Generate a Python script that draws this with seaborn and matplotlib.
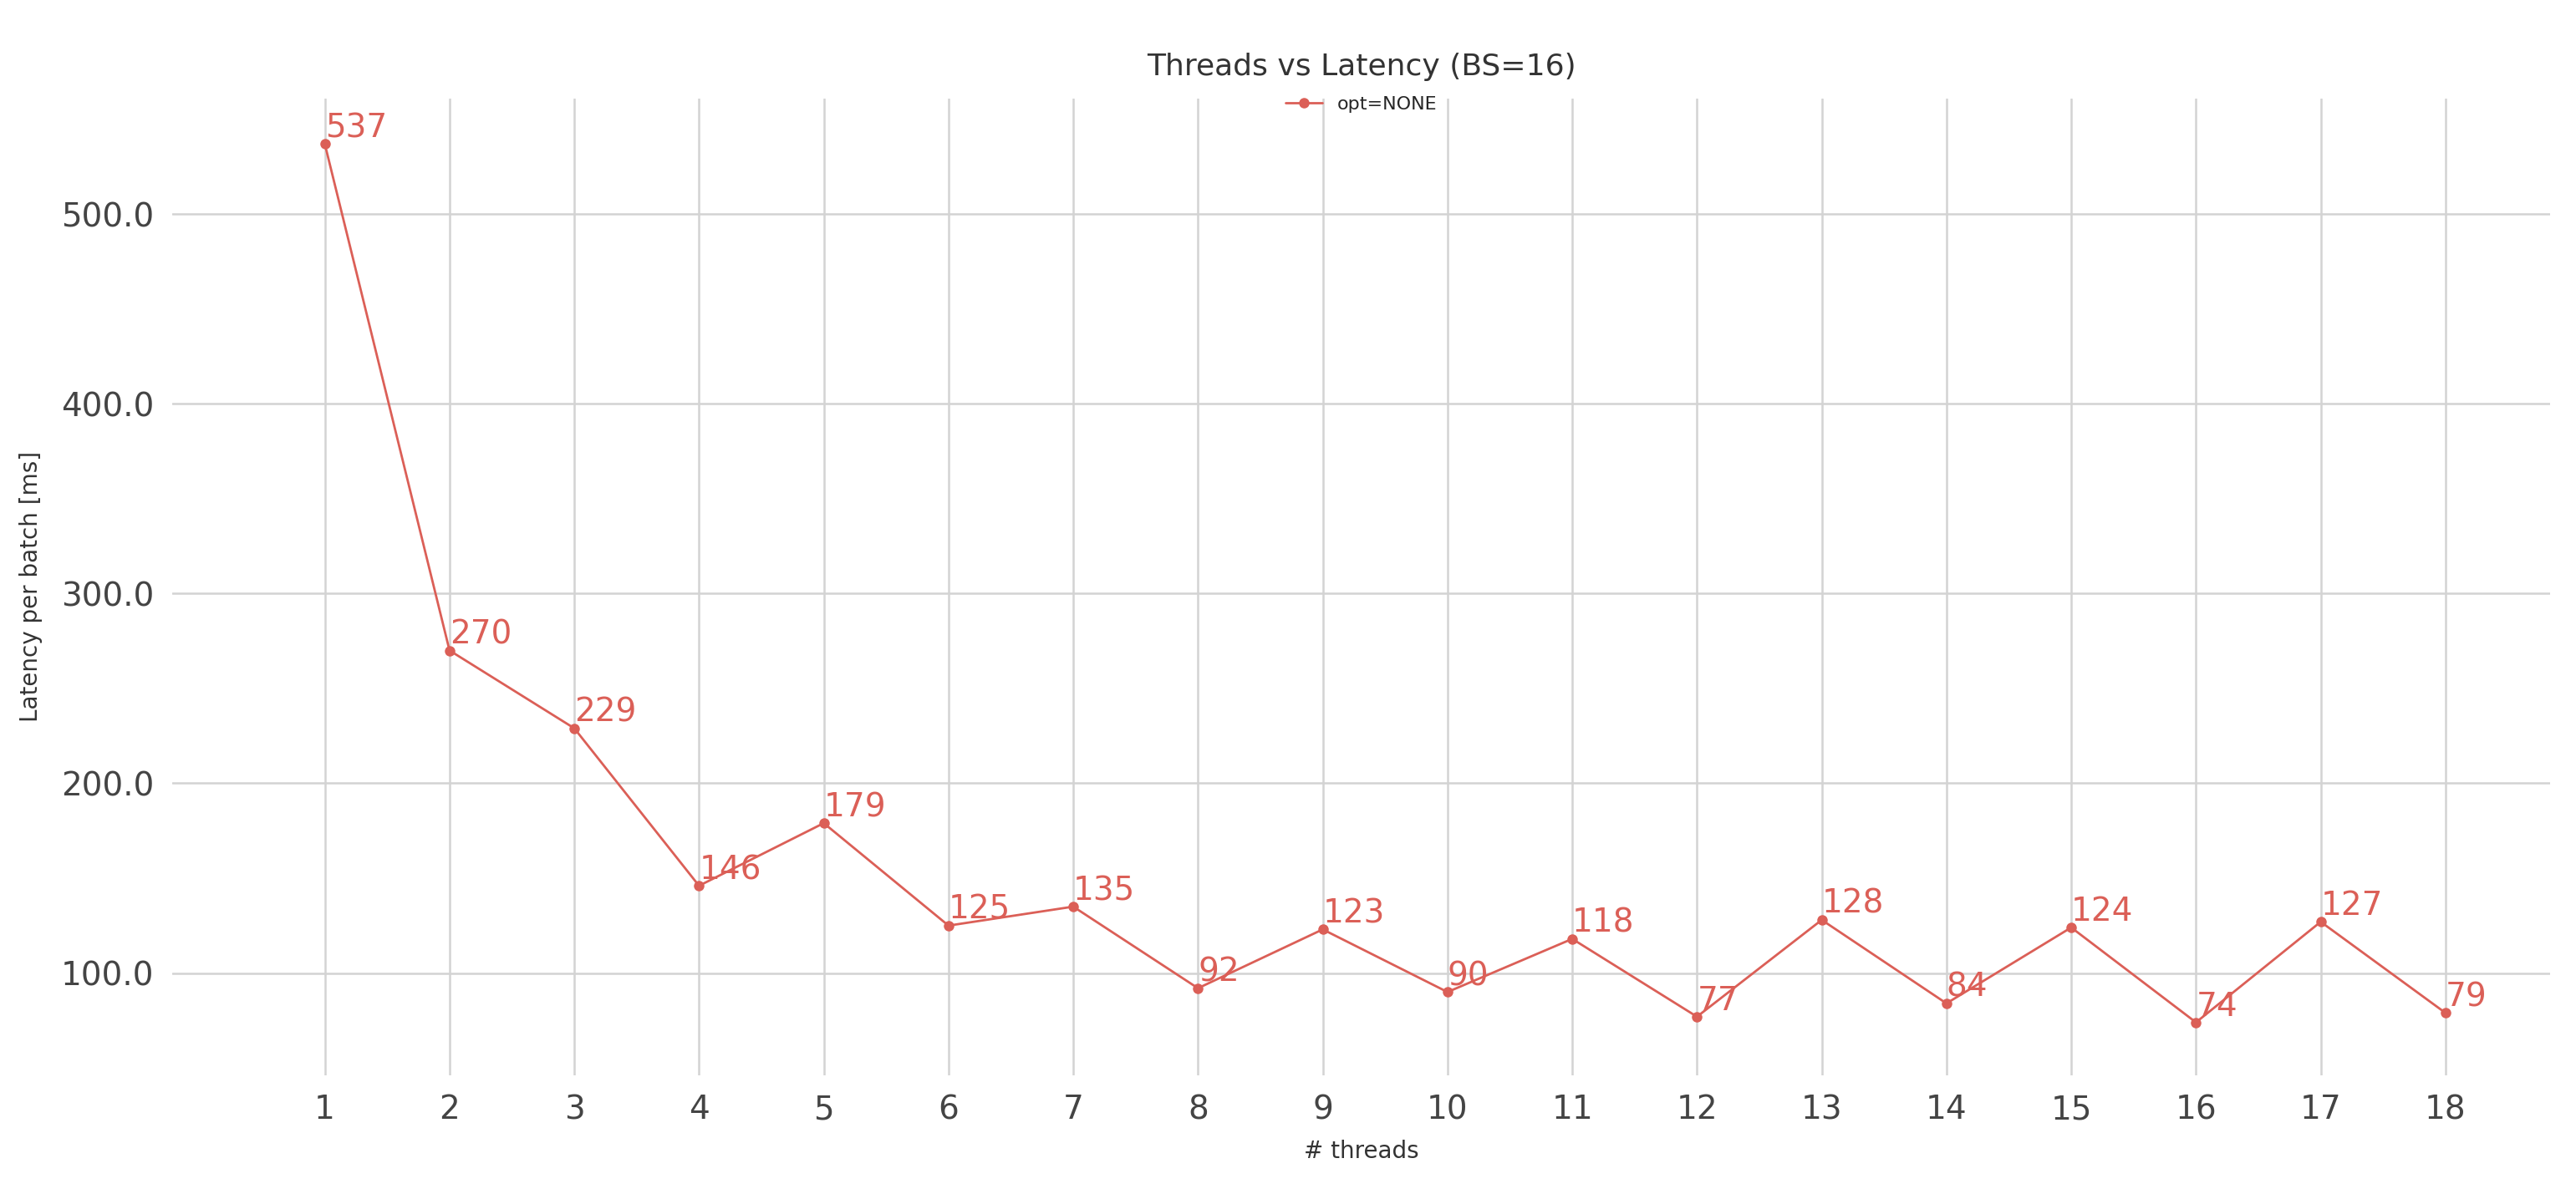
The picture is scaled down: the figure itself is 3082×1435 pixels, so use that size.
import matplotlib
matplotlib.use("Agg")
import matplotlib.pyplot as plt
import seaborn as sns
import pandas as pd
from matplotlib.ticker import FormatStrFormatter

threads = list(range(1, 19))
latency = [537, 270, 229, 146, 179, 125, 135, 92, 123, 90, 118, 77, 128, 84, 124, 74, 127, 79]
series_name = "opt=NONE"

df = pd.DataFrame({"threads": threads, "latency": latency, "opt": series_name})

sns.set_style("whitegrid")
color = sns.color_palette("hls", 8)[0]

fig = plt.figure(figsize=(15.41, 7.175), dpi=200)
ax = fig.add_axes([0.067, 0.103, 0.923, 0.815])
sns.lineplot(data=df, x="threads", y="latency", hue="opt", palette=[color],
             marker="o", markersize=4.5, markeredgewidth=0, linewidth=1, ax=ax)

for x, y in zip(threads, latency):
    ax.annotate(str(y), (x, y), xytext=(0, 0), textcoords="offset points",
                color=color, fontsize=14, ha="left", va="bottom")

for s in ax.spines.values():
    s.set_visible(False)
ax.grid(True, color="#d3d3d3", linewidth=0.9)
ax.set_xticks(threads)
ax.yaxis.set_major_formatter(FormatStrFormatter("%.1f"))
ax.set_yticks([100, 200, 300, 400, 500])
ax.set_xlim(-0.22, 18.84)
ax.set_ylim(46, 561)
ax.tick_params(labelsize=14, colors="#444444", length=0, pad=8)
ax.set_xlabel("# threads", fontsize=10, color="#333333", labelpad=6)
ax.set_ylabel("Latency per batch [ms]", fontsize=10, color="#333333", labelpad=8)
ax.set_title("Threads vs Latency (BS=16)", fontsize=13, color="#333333", pad=10)
ax.legend(loc="upper center", frameon=False, fontsize=8, borderaxespad=0,
          bbox_to_anchor=(0.5, 1.01))

fig.savefig("out.png", dpi=200)
